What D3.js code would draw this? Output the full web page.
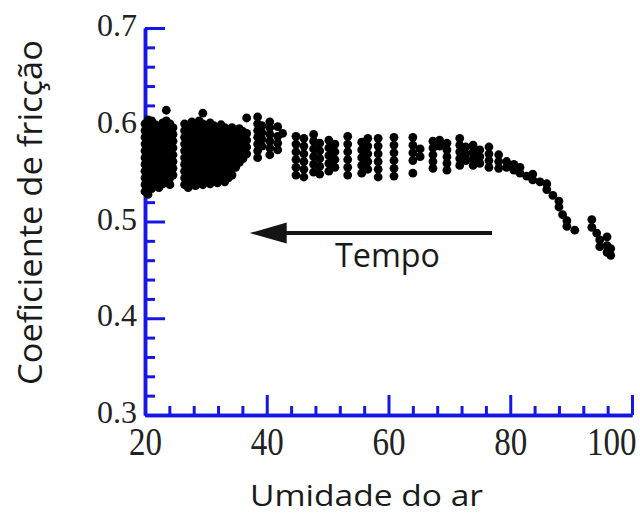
<!DOCTYPE html>
<html>
<head>
<meta charset="utf-8">
<script src="https://cdn.jsdelivr.net/npm/d3@7/dist/d3.min.js"></script>
<style>
  html, body { margin: 0; padding: 0; background: #fff; }
  svg { display: block; }
</style>
</head>
<body>
<svg id="chart" width="640" height="515"></svg>
<script>
// ---------- DATA ----------
const xTicksMajor = [20, 40, 60, 80, 100];
const yTicksMajor = [0.3, 0.4, 0.5, 0.6, 0.7];
const xTickLabels = ["20", "40", "60", "80", "100"];
const yTickLabels = ["0.3", "0.4", "0.5", "0.6", "0.7"];
const xTitle = "Umidade do ar";
const yTitle = "Coeficiente de fricção";
const arrowLabel = "Tempo";
const arrowFrom = [77.0, 0.488];
const arrowTo = [37.2, 0.488];

// columns of measurements: humidity value and friction values read at it
const humidityCols = [
  20.0, 20.5, 21.1, 21.7, 22.3, 22.9, 23.5, 24.1, 24.6,
  26.5, 27.1, 27.7, 28.3, 28.9, 29.5, 30.1, 30.7, 31.3, 31.9, 32.5, 33.1, 33.7, 34.3, 34.9, 35.5, 36.1, 36.7,
  38.5, 39.2, 40.5, 41.8, 42.6,
  44.8, 46.1, 47.7, 48.7, 50.2, 51.2, 53.3, 55.6, 56.6, 58.3, 60.9, 64.0, 65.2,
  67.3, 68.4, 69.6, 71.7, 72.7, 73.9, 75.0, 76.5, 78.1, 79.4, 80.6, 81.6, 82.7, 83.7, 84.9, 86.0, 87.0, 88.0, 88.6, 89.3, 90.6,
  93.4, 94.2, 94.7, 95.9, 96.5
];
const frictionCols = [
  [0.531,0.538,0.545,0.552,0.559,0.566,0.573,0.580,0.587,0.594,0.601],
  [0.528,0.535,0.542,0.549,0.556,0.563,0.570,0.577,0.584,0.591,0.598,0.605],
  [0.534,0.541,0.548,0.555,0.562,0.569,0.576,0.583,0.590,0.597,0.604],
  [0.537,0.544,0.551,0.558,0.565,0.572,0.579,0.586,0.593,0.600],
  [0.535,0.542,0.549,0.556,0.563,0.570,0.577,0.584,0.591,0.598],
  [0.539,0.546,0.553,0.560,0.567,0.574,0.581,0.588,0.595,0.602],
  [0.541,0.548,0.555,0.562,0.569,0.576,0.583,0.590,0.597,0.604,0.615],
  [0.538,0.545,0.552,0.559,0.566,0.573,0.580,0.587,0.594,0.601],
  [0.548,0.555,0.562,0.569,0.576,0.583,0.590,0.597],
  [0.538,0.545,0.552,0.559,0.566,0.573,0.580,0.587,0.594,0.601],
  [0.535,0.542,0.549,0.556,0.563,0.570,0.577,0.584,0.591,0.598],
  [0.540,0.547,0.554,0.561,0.568,0.575,0.582,0.589,0.596,0.603],
  [0.537,0.544,0.551,0.558,0.565,0.572,0.579,0.586,0.593,0.600],
  [0.541,0.548,0.555,0.562,0.569,0.576,0.583,0.590,0.597,0.604],
  [0.538,0.545,0.552,0.559,0.566,0.573,0.580,0.587,0.594,0.601,0.612],
  [0.542,0.549,0.556,0.563,0.570,0.577,0.584,0.591,0.598],
  [0.539,0.546,0.553,0.560,0.567,0.574,0.581,0.588,0.595,0.602],
  [0.543,0.550,0.557,0.564,0.571,0.578,0.585,0.592,0.599],
  [0.540,0.547,0.554,0.561,0.568,0.575,0.582,0.589,0.596],
  [0.544,0.551,0.558,0.565,0.572,0.579,0.586,0.593,0.600],
  [0.541,0.548,0.555,0.562,0.569,0.576,0.583,0.590,0.597],
  [0.545,0.552,0.559,0.566,0.573,0.580,0.587,0.594],
  [0.548,0.555,0.562,0.569,0.576,0.583,0.590,0.597],
  [0.556,0.563,0.570,0.577,0.584,0.591],
  [0.561,0.568,0.575,0.582,0.589,0.596],
  [0.565,0.572,0.579,0.586,0.593],
  [0.570,0.577,0.584,0.591,0.607],
  [0.566,0.573,0.580,0.587,0.594,0.601,0.608],
  [0.578,0.585,0.592,0.599],
  [0.569,0.576,0.583,0.590,0.597,0.603],
  [0.574,0.581,0.588,0.598],
  [0.591],
  [0.548,0.556,0.564,0.572,0.580,0.588],
  [0.546,0.554,0.562,0.570,0.578,0.586],
  [0.551,0.559,0.567,0.575,0.583,0.590],
  [0.549,0.557,0.565,0.573,0.581],
  [0.552,0.560,0.568,0.576,0.584],
  [0.556,0.564,0.572,0.580],
  [0.548,0.556,0.564,0.572,0.580,0.588],
  [0.550,0.558,0.566,0.574,0.582],
  [0.554,0.562,0.570,0.578,0.586],
  [0.546,0.554,0.562,0.570,0.578,0.586],
  [0.547,0.555,0.563,0.571,0.579,0.587],
  [0.550,0.563,0.571,0.579,0.587],
  [0.567,0.575],
  [0.555,0.562,0.569,0.576,0.583],
  [0.578,0.584],
  [0.553,0.560,0.567,0.574,0.581],
  [0.558,0.565,0.572,0.579,0.586],
  [0.563,0.570,0.577],
  [0.558,0.565,0.572,0.579],
  [0.560,0.567,0.574],
  [0.556,0.563,0.570,0.577],
  [0.555,0.562,0.569],
  [0.556,0.562],
  [0.553,0.559],
  [0.550,0.556],
  [0.547],
  [0.543,0.549],
  [0.541],
  [0.533,0.539],
  [0.527],
  [0.515,0.521],
  [0.507],
  [0.495,0.501],
  [0.491],
  [0.494,0.502],
  [0.488],
  [0.474,0.481],
  [0.468,0.475,0.484],
  [0.465,0.472]
];

// ---------- CHART ----------
const svg = d3.select("#chart");
const W = 640, H = 515;
svg.append("rect").attr("width", W).attr("height", H).attr("fill", "#fff");

const x = d3.scaleLinear().domain([20, 100]).range([145, 632]);
const y = d3.scaleLinear().domain([0.3, 0.7]).range([415, 28]);

const axisColor = "#1616e6";
const labelColor = "#222";

const points = [];
humidityCols.forEach((h, i) => frictionCols[i].forEach(f => points.push({h, f})));

// minor ticks
const xMinor = d3.range(20, 100.001, 4).filter(v => !xTicksMajor.includes(Math.round(v)));
const yMinor = d3.range(0.3, 0.7001, 0.02).map(v => +v.toFixed(2)).filter(v => !yTicksMajor.includes(v));

const gxMinor = svg.append("g").attr("transform", `translate(0,${y(0.3)})`)
  .call(d3.axisBottom(x).tickValues(xMinor).tickSize(-9).tickSizeOuter(0).tickFormat(""));
const gyMinor = svg.append("g").attr("transform", `translate(${x(20)},0)`)
  .call(d3.axisLeft(y).tickValues(yMinor).tickSize(-10).tickSizeOuter(0).tickFormat(""));

const gx = svg.append("g").attr("transform", `translate(0,${y(0.3)})`)
  .call(d3.axisBottom(x).tickValues(xTicksMajor).tickSize(-20).tickSizeOuter(0)
    .tickFormat((d, i) => xTickLabels[i]));
const gy = svg.append("g").attr("transform", `translate(${x(20)},0)`)
  .call(d3.axisLeft(y).tickValues(yTicksMajor).tickSize(-20).tickSizeOuter(0).tickPadding(8)
    .tickFormat((d, i) => yTickLabels[i]));

[gxMinor, gyMinor, gx, gy].forEach(g => {
  g.selectAll("path.domain").attr("stroke", axisColor).attr("stroke-width", 3.5);
  g.selectAll(".tick line").attr("stroke", axisColor).attr("stroke-width", 3);
});

gy.selectAll(".tick text")
  .attr("font-family", "'Liberation Serif', 'Times New Roman', serif")
  .attr("font-size", 32).attr("fill", labelColor).attr("dy", "0.24em");
gx.selectAll(".tick text")
  .attr("font-family", "'Liberation Serif', 'Times New Roman', serif")
  .attr("font-size", 33).attr("fill", labelColor)
  .attr("y", 32.5).attr("dy", 0)
  .attr("transform", "scale(1,1.23)");
gx.selectAll(".tick text").filter(d => d === 100)
  .attr("text-anchor", "end").attr("x", 4);

// data points
svg.append("g").selectAll("circle").data(points).join("circle")
  .attr("cx", d => x(d.h)).attr("cy", d => y(d.f)).attr("r", 4.4).attr("fill", "#000");

// arrow annotation
const ax0 = x(arrowFrom[0]), ay = y(arrowFrom[1]), ax1 = x(arrowTo[0]);
const headLen = 37, headHalf = 10.5;
svg.append("line").attr("x1", ax0).attr("y1", ay).attr("x2", ax1 + headLen - 2).attr("y2", ay)
  .attr("stroke", "#151515").attr("stroke-width", 4);
svg.append("path")
  .attr("d", `M${ax1},${ay} L${ax1 + headLen},${ay - headHalf} L${ax1 + headLen},${ay + headHalf} Z`)
  .attr("fill", "#151515");

const sans = "'Open Sans', 'Noto Sans', sans-serif";
svg.append("text").attr("x", 335).attr("y", 267)
  .attr("font-family", sans).attr("font-size", 32).attr("fill", "#1a1a1a")
  .attr("textLength", 105).attr("lengthAdjust", "spacingAndGlyphs")
  .text(arrowLabel);

svg.append("text").attr("x", 250).attr("y", 506)
  .attr("font-family", sans).attr("font-size", 29).attr("fill", "#1a1a1a")
  .attr("textLength", 233).attr("lengthAdjust", "spacingAndGlyphs")
  .text(xTitle);

svg.append("text").attr("transform", "translate(42,385) rotate(-90)")
  .attr("font-family", sans).attr("font-size", 32).attr("fill", "#1a1a1a")
  .attr("textLength", 345).attr("lengthAdjust", "spacingAndGlyphs")
  .text(yTitle);
</script>
</body>
</html>
